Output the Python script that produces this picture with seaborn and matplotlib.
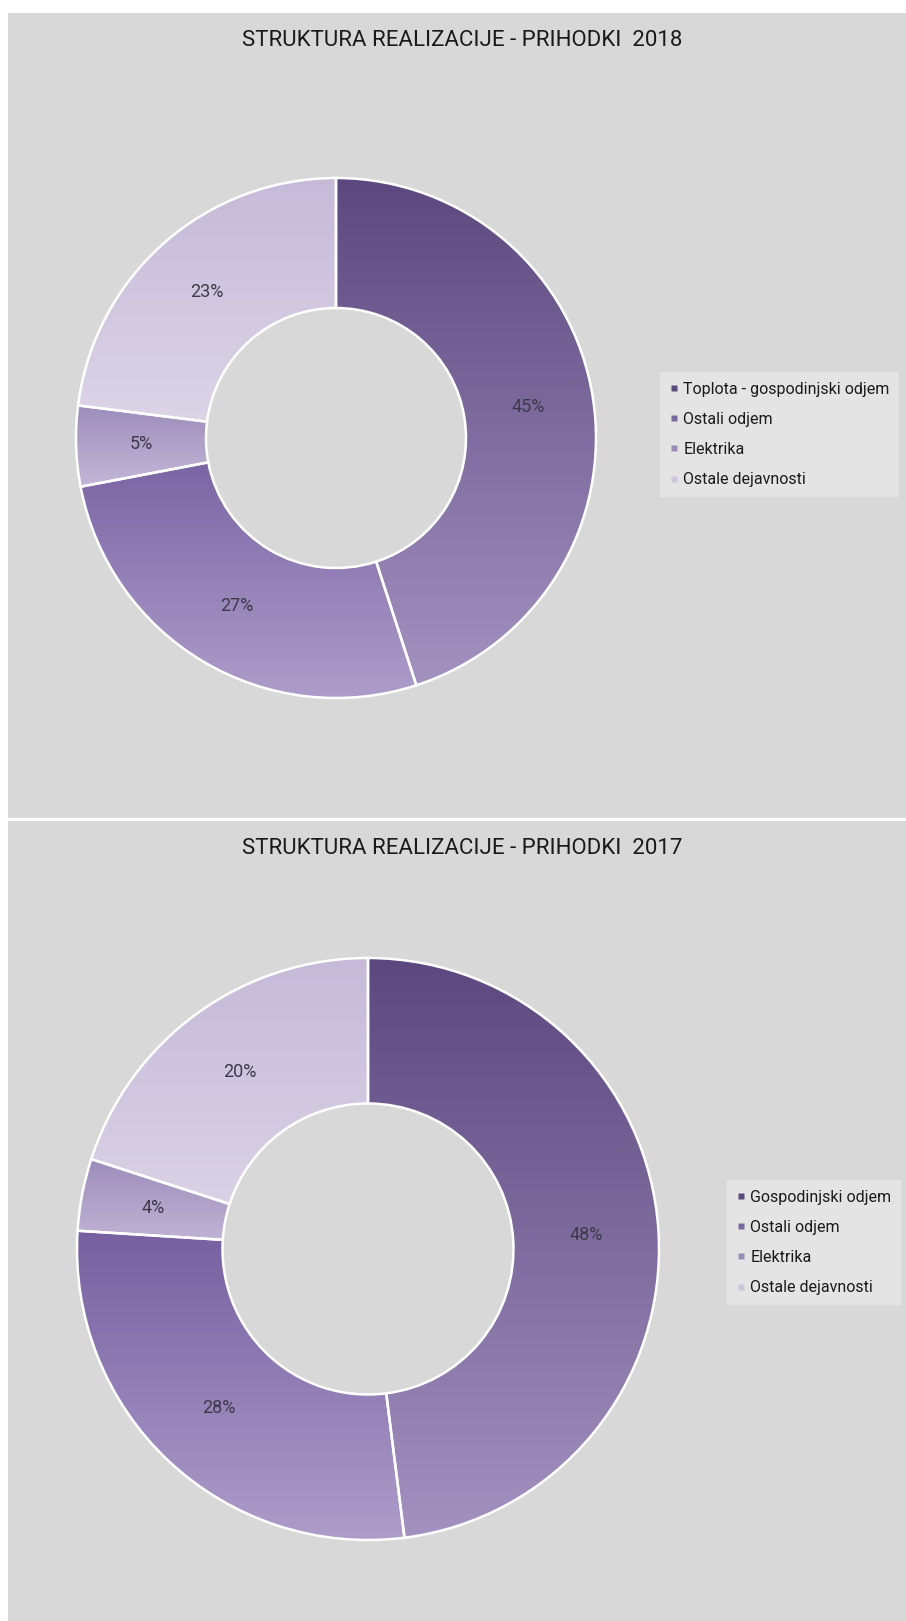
import numpy as np
import matplotlib.pyplot as plt
import matplotlib.colors as mcolors
from matplotlib.patches import Rectangle
from matplotlib.lines import Line2D
import seaborn as sns

sns.set_theme(style="white")
plt.rcParams['font.family'] = ['Roboto', 'DejaVu Sans']

# data
titles = ["STRUKTURA REALIZACIJE - PRIHODKI  2018", "STRUKTURA REALIZACIJE - PRIHODKI  2017"]
labels_2018 = ["Toplota - gospodinjski odjem", "Ostali odjem", "Elektrika", "Ostale dejavnosti"]
labels_2017 = ["Gospodinjski odjem", "Ostali odjem", "Elektrika", "Ostale dejavnosti"]
values_2018 = [45, 27, 5, 23]
values_2017 = [48, 28, 4, 20]

# gradient colours per slice (top -> bottom)
top_colors = ["#5c487e", "#7660a0", "#9d8dbb", "#c6bad8"]
bottom_colors = ["#a391c0", "#ae9dca", "#c4b7d7", "#ddd6e8"]
legend_colors = ["#5a4a7a", "#7a68a0", "#9c8cb8", "#cfc5dd"]

W, H = 906, 1621
BG = "#d8d8d8"
fig = plt.figure(figsize=(W / 100, H / 100), dpi=100)
fig.patch.set_facecolor("white")


def fx(px):
    return px / W


def fy(py):
    return 1 - py / H


def draw_panel(top, bottom, cx, cy, r, title, values, labels, leg_xy):
    fig.add_artist(Rectangle((fx(8), fy(bottom)), fx(W - 8), (bottom - top) / H,
                             transform=fig.transFigure, facecolor=BG, edgecolor="none", zorder=0))
    fig.text(fx(462), fy(top + 27), title, ha="center", va="center",
             fontsize=16, color="#1a1a1a")

    pad = 1.03
    ax = fig.add_axes([fx(cx - r * pad), fy(cy + r * pad), 2 * r * pad / W, 2 * r * pad / H])
    ax.set_facecolor("none")
    wedges, texts, autotexts = ax.pie(
        values, startangle=90, counterclock=False, radius=1,
        autopct=lambda p: f"{p:.0f}%", pctdistance=0.75,
        wedgeprops=dict(width=0.5, edgecolor="white", linewidth=1.8),
        textprops=dict(color="#3c3a4a", fontsize=13))

    grad = np.linspace(0, 1, 256).reshape(-1, 1)
    for w, ct, cb in zip(wedges, top_colors, bottom_colors):
        verts = w.get_path().vertices
        y0, y1 = verts[:, 1].min(), verts[:, 1].max()
        cmap = mcolors.LinearSegmentedColormap.from_list("g", [cb, ct])
        im = ax.imshow(grad, extent=(-1.05, 1.05, y0, y1), origin="lower",
                       cmap=cmap, aspect="auto", zorder=0.5)
        im.set_clip_path(w)
        w.set_facecolor("none")
        w.set_zorder(1)
    for t in autotexts:
        t.set_zorder(3)

    ax.set_xlim(-pad, pad)
    ax.set_ylim(-pad, pad)
    ax.set_aspect("equal")
    ax.axis("off")

    handles = [Line2D([0], [0], marker="s", linestyle="none", markersize=5,
                      markerfacecolor=c, markeredgecolor="none") for c in legend_colors]
    fig.legend(handles, labels, loc="upper left",
               bbox_to_anchor=(fx(leg_xy[0]), fy(leg_xy[1])), bbox_transform=fig.transFigure,
               borderaxespad=0, frameon=True, facecolor="#e4e4e4", edgecolor="none",
               framealpha=1, fancybox=False, fontsize=11.5, labelspacing=0.95,
               handlelength=0.6, handletextpad=0.25, borderpad=0.6, labelcolor="#1a1a1a")


draw_panel(13, 818, 336, 438, 260, titles[0], values_2018, labels_2018, (660, 372))
draw_panel(821, 1621, 368, 1249, 291, titles[1], values_2017, labels_2017, (727, 1180))

fig.savefig("out.png", dpi=100, facecolor=fig.get_facecolor())
